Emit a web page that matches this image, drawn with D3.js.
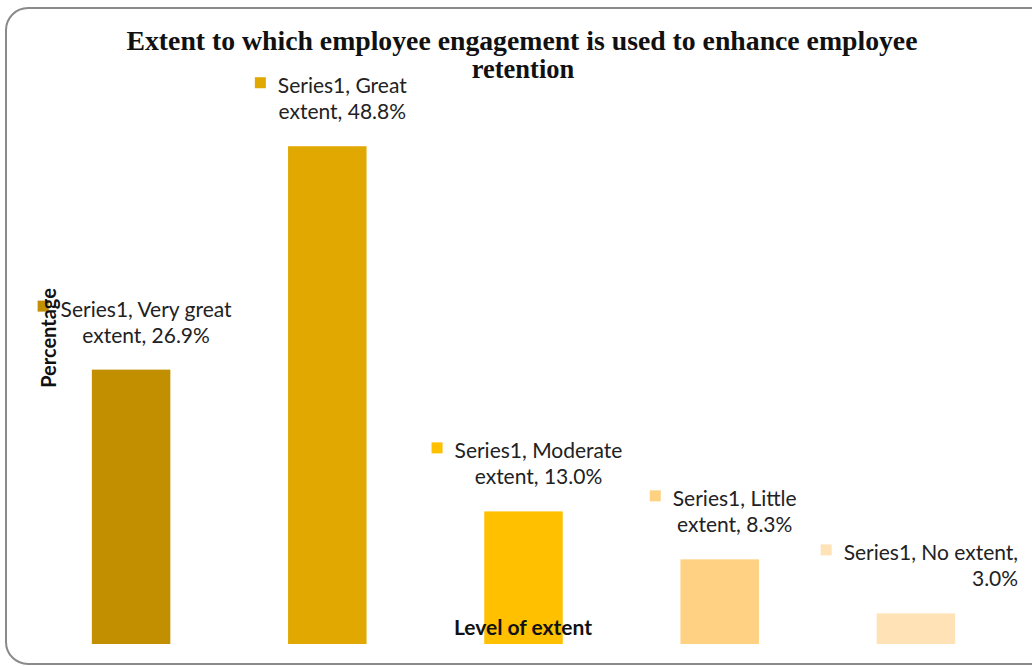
<!DOCTYPE html>
<html><head><meta charset="utf-8">
<script src="https://cdn.jsdelivr.net/npm/d3@7"></script>
<style>body{margin:0;background:#fff;}svg{display:block;}</style>
</head><body>
<svg id="c" width="1032" height="666"></svg>
<script>
const categories = ["Very great extent","Great extent","Moderate extent","Little extent","No extent"];
const values = [26.9, 48.8, 13.0, 8.3, 3.0];
const seriesName = "Series1";
const colors = ["#C18F00","#E0A800","#FFC000","#FFD283","#FFE2B6"];
const titleLines = ["Extent to which employee engagement is used to enhance employee","retention"];
const xTitle = "Level of extent";
const yTitle = "Percentage";

const svg = d3.select("#c");
// outer rounded frame
svg.append("rect").attr("x",6).attr("y",8).attr("width",1050).attr("height",656)
  .attr("rx",22).attr("ry",22).attr("fill","#fff").attr("stroke","#8a8a8a").attr("stroke-width",2);

const x = d3.scaleBand().domain(categories).range([33,1014]).paddingInner(0.6).paddingOuter(0.3);
const bottom = 644;
const y = d3.scaleLinear().domain([0,50]).range([bottom, bottom-510]);

svg.selectAll("rect.bar").data(categories).join("rect").attr("class","bar")
  .attr("x",d=>x(d)).attr("width",x.bandwidth())
  .attr("y",(d,i)=>y(values[i])).attr("height",(d,i)=>bottom-y(values[i]))
  .attr("fill",(d,i)=>colors[i]);

// title
const t = svg.append("text").attr("font-family","Liberation Serif, Times New Roman, serif")
  .attr("font-weight","bold").attr("font-size",26.5).attr("fill","#111").attr("text-anchor","middle");
t.append("tspan").attr("x",522).attr("y",50).attr("textLength",791).attr("lengthAdjust","spacingAndGlyphs").text(titleLines[0]);
t.append("tspan").attr("x",523).attr("y",78).text(titleLines[1]);

// data labels
const lblFont = "Lato, Open Sans, sans-serif";
const fs = 21;
categories.forEach((c,i)=>{
  const cx = x(c) + x.bandwidth()/2 + 15;
  const yb = y(values[i]) - 27;
  const words = c.split(" ");
  const head = words.slice(0,-1).join(" ");
  const tail = words[words.length-1];
  let line1, line2;
  if (i === 4) { line1 = seriesName + ", " + c + ","; line2 = values[i].toFixed(1) + "%"; }
  else { line1 = seriesName + ", " + head; line2 = tail + ", " + values[i].toFixed(1) + "%"; }
  const g = svg.append("g");
  const t1 = g.append("text").attr("x",cx).attr("y",yb-26).attr("text-anchor","middle")
    .attr("font-family",lblFont).attr("font-size",fs).attr("fill","#222").text(line1);
  const bb = t1.node().getBBox();
  const t2 = g.append("text").attr("y",yb).attr("font-family",lblFont).attr("font-size",fs).attr("fill","#222").text(line2);
  if (i === 4) t2.attr("x", bb.x + bb.width).attr("text-anchor","end");
  else t2.attr("x", cx).attr("text-anchor","middle");
  g.append("rect").attr("x",bb.x-23).attr("y",yb-42).attr("width",11).attr("height",11).attr("fill",colors[i]);
});

// axis titles
svg.append("text").attr("transform","translate(56,338) rotate(-90)").attr("text-anchor","middle")
  .attr("font-family",lblFont).attr("font-weight","bold").attr("font-size",20).attr("fill","#111").text(yTitle);
svg.append("text").attr("x",523).attr("y",635).attr("text-anchor","middle")
  .attr("font-family",lblFont).attr("font-weight","bold").attr("font-size",21).attr("fill","#111").text(xTitle);
</script>
</body></html>
